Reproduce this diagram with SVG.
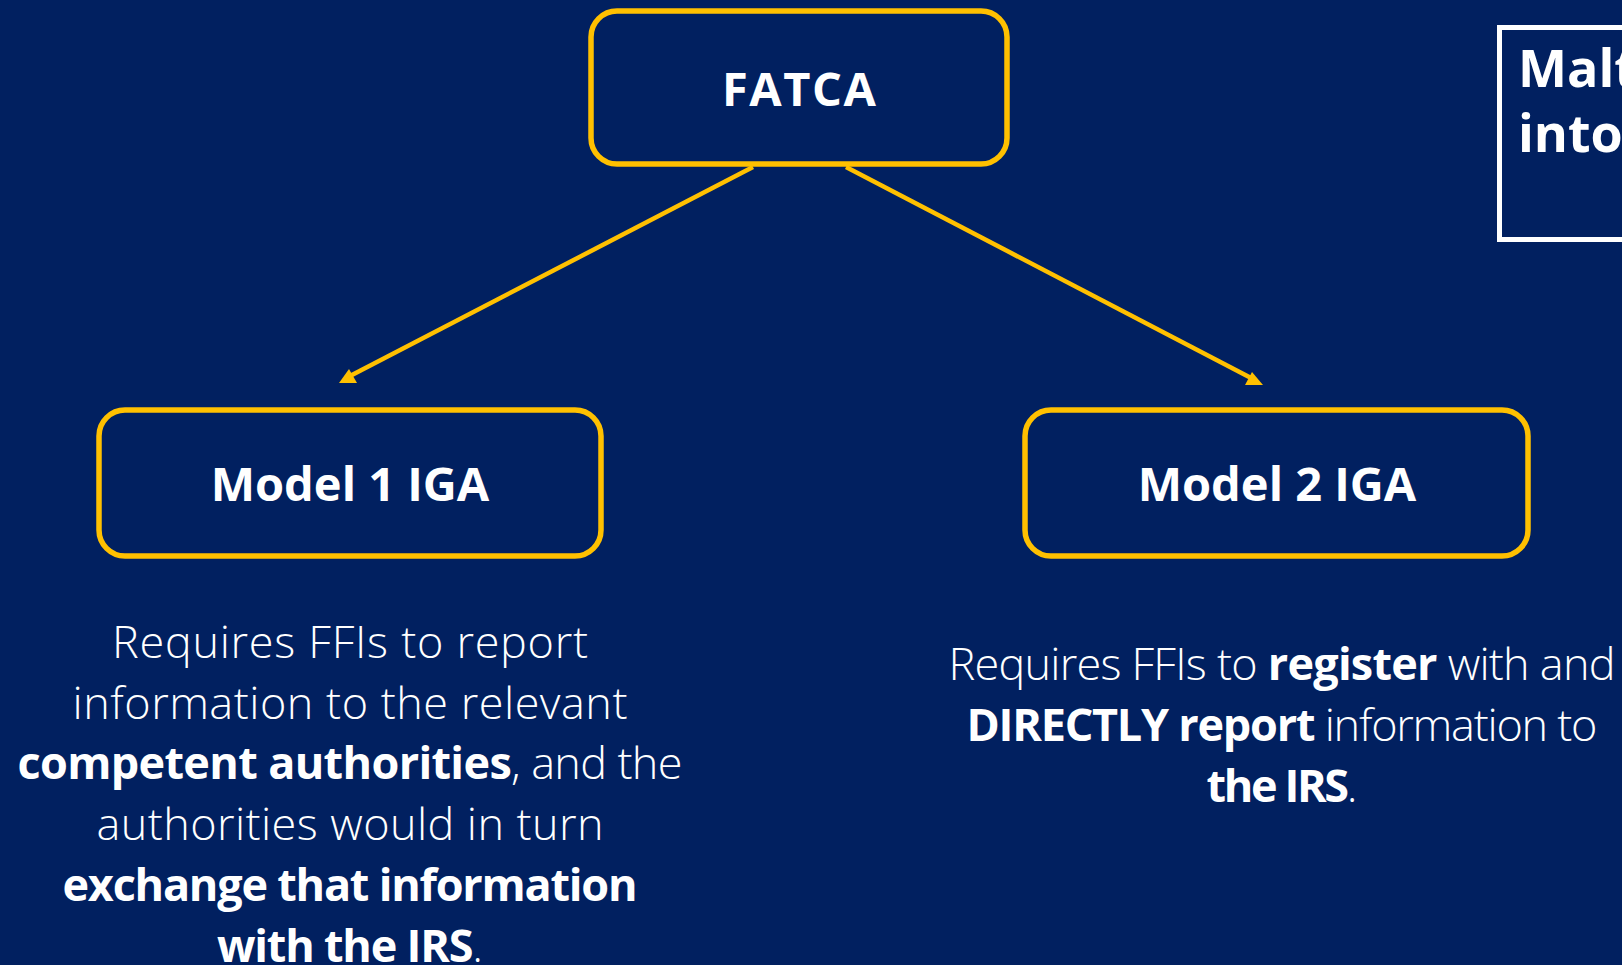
<svg xmlns="http://www.w3.org/2000/svg" width="1622" height="965" viewBox="0 0 1622 965">
<style>
.bg{fill:#012060}
.box{fill:#012060;stroke:#FFC000;stroke-width:5.5}
.mbox{fill:#012060;stroke:#FFFFFF;stroke-width:5}
.conn{stroke:#FFC000;stroke-width:4.5;fill:none}
.head{fill:#FFC000}
.title{font-family:"Open Sans","Liberation Sans",sans-serif;font-weight:700;font-size:47px;fill:#FFFFFF;text-anchor:middle}
.body{font-family:"Open Sans","Liberation Sans",sans-serif;font-weight:300;font-size:45px;fill:#FFFFFF;text-anchor:middle}
.b{font-weight:700}
.malta{font-family:"Open Sans","Liberation Sans",sans-serif;font-weight:700;font-size:52px;fill:#FFFFFF}
</style>
<rect class="bg" x="0" y="0" width="1622" height="965"/>
<g id="connectors">
<line class="conn" x1="753" y1="167" x2="350" y2="376"/>
<polygon class="head" points="339,383 357,383 349,369"/>
<line class="conn" x1="846" y1="167" x2="1253" y2="379"/>
<polygon class="head" points="1245,385 1263,385 1252,372"/>
</g>
<g id="fatca">
<rect class="box" x="591" y="11" width="416" height="153" rx="26"/>
<text class="title" x="799" y="106" textLength="154" lengthAdjust="spacing">FATCA</text>
</g>
<g id="model1">
<rect class="box" x="99" y="410" width="502" height="146" rx="26"/>
<text class="title" x="350" y="501">Model 1 IGA</text>
</g>
<g id="model2">
<rect class="box" x="1025" y="410" width="503" height="146" rx="26"/>
<text class="title" x="1277" y="501">Model 2 IGA</text>
</g>
<g id="malta">
<rect class="mbox" x="1499.5" y="27.5" width="140" height="212"/>
<text class="malta" x="1518" y="87">Malt</text>
<text class="malta" x="1518" y="152">into</text>
</g>
<g id="model1-desc">
<text class="body" x="350" y="658" textLength="476" lengthAdjust="spacing">Requires FFIs to report</text>
<text class="body" x="350" y="719" textLength="555" lengthAdjust="spacing">information to the relevant</text>
<text class="body" x="350" y="779" textLength="665" lengthAdjust="spacing"><tspan class="b">competent authorities</tspan>, and the</text>
<text class="body" x="350" y="840" textLength="507" lengthAdjust="spacing">authorities would in turn</text>
<text class="body" x="350" y="901" textLength="575" lengthAdjust="spacing"><tspan class="b">exchange that information</tspan></text>
<text class="body" x="350" y="962" textLength="266" lengthAdjust="spacing"><tspan class="b">with the IRS</tspan>.</text>
</g>
<g id="model2-desc">
<text class="body" x="1282" y="680" textLength="667" lengthAdjust="spacing">Requires FFIs to <tspan class="b">register</tspan> with and</text>
<text class="body" x="1282" y="741" textLength="631" lengthAdjust="spacing"><tspan class="b">DIRECTLY report</tspan> information to</text>
<text class="body" x="1282" y="802" textLength="151" lengthAdjust="spacing"><tspan class="b">the IRS</tspan>.</text>
</g>
</svg>
